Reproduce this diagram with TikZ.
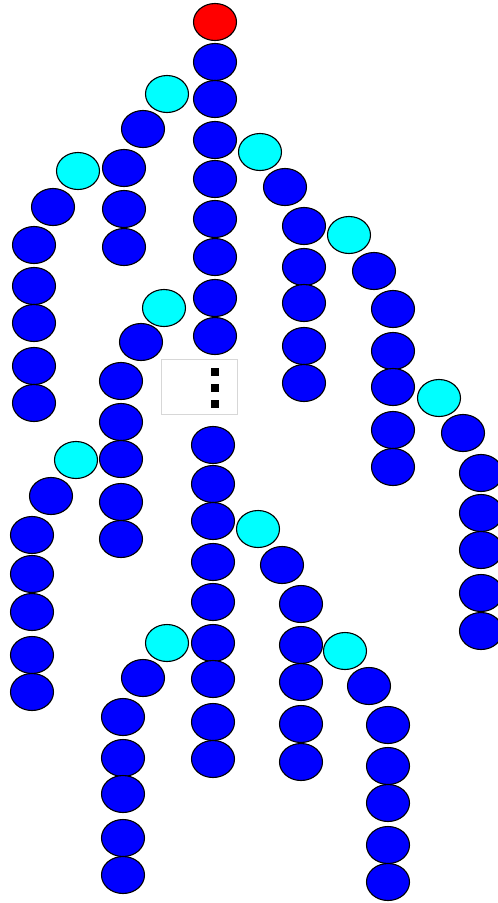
\documentclass[tikz,border=0pt]{standalone}
\usetikzlibrary{shapes.geometric}
\begin{document}
\begin{tikzpicture}[x=1pt,y=-1pt,
  bead/.style={ellipse,draw=black,line width=1.1pt,minimum width=43pt,minimum height=37pt,inner sep=0pt},
  bb/.style={bead,fill={rgb,255:red,0;green,0;blue,255}},
  cb/.style={bead,fill={rgb,255:red,0;green,255;blue,255}},
  rb/.style={bead,fill={rgb,255:red,255;green,0;blue,0}},
  dotsq/.style={rectangle,fill=black,minimum size=8pt,inner sep=0pt}]
\useasboundingbox (0,0) rectangle (498,903);
\clip (0,0) rectangle (498,903);
% main column
\node[rb] (root) at (215,22) {};
\foreach \y [count=\i] in {62,99,140,179,219,257,298,336}
  \node[bb] (m\i) at (215,\y) {};
\foreach \y [count=\i] in {445,484,521,562,602,643,679,722,759}
  \node[bb] (l\i) at (213,\y) {};
% ellipsis box
\node[draw={rgb,255:red,215;green,215;blue,215},line width=0.6pt,minimum width=76pt,minimum height=55pt,inner sep=0pt] (gap) at (199,386.5) {};
\node[dotsq] (d1) at (215,372) {};
\node[dotsq] (d2) at (215,388) {};
\node[dotsq] (d3) at (215,404) {};
% cyan branch points
\foreach \x/\y [count=\i] in {167/94,78/171,260/152,349/235,439/398,164/308,76/460,258/529,345/651,167/643}
  \node[cb] (c\i) at (\x,\y) {};
% branches
\foreach \x/\y [count=\i] in {143/129,124/168,124/209,124/247}
  \node[bb] (a\i) at (\x,\y) {};
\foreach \x/\y [count=\i] in {53/207,34/245,34/286,34/323,34/366,34/403}
  \node[bb] (aa\i) at (\x,\y) {};
\foreach \x/\y [count=\i] in {285/187,304/226,304/267,304/303,304/346,304/383}
  \node[bb] (b\i) at (\x,\y) {};
\foreach \x/\y [count=\i] in {374/271,393/309,393/351,393/387,393/430,393/467}
  \node[bb] (ba\i) at (\x,\y) {};
\foreach \x/\y [count=\i] in {463/433,481/473,481/513,481/550,481/593,481/631}
  \node[bb] (bb\i) at (\x,\y) {};
\foreach \x/\y [count=\i] in {141/342,121/381,121/422,121/459,121/502,121/539}
  \node[bb] (e\i) at (\x,\y) {};
\foreach \x/\y [count=\i] in {51/496,32/535,32/574,32/612,32/655,32/692}
  \node[bb] (ea\i) at (\x,\y) {};
\foreach \x/\y [count=\i] in {282/565,301/604,301/645,301/682,301/724,301/762}
  \node[bb] (f\i) at (\x,\y) {};
\foreach \x/\y [count=\i] in {369/686,388/725,388/766,388/803,388/845,388/882}
  \node[bb] (fa\i) at (\x,\y) {};
\foreach \x/\y [count=\i] in {143/678,123/717,123/758,123/794,123/838,123/875}
  \node[bb] (g\i) at (\x,\y) {};
\end{tikzpicture}
\end{document}
